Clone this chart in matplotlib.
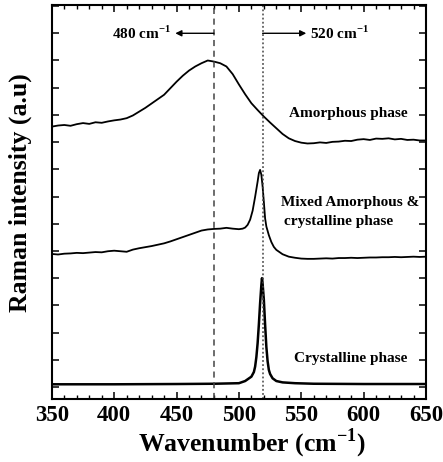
import numpy as np
import matplotlib
matplotlib.use("Agg")
import matplotlib.pyplot as plt
from matplotlib.ticker import MultipleLocator

plt.rcParams['font.family'] = ['Liberation Serif', 'DejaVu Serif']
plt.rcParams['font.weight'] = 'bold'
plt.rcParams['mathtext.fontset'] = 'custom'
plt.rcParams['mathtext.rm'] = 'Liberation Serif:bold'
plt.rcParams['mathtext.bf'] = 'Liberation Serif:bold'

# Raman spectra (offset traces), wavenumber in cm^-1
amorph_x = np.arange(350, 655, 5)
amorph_y = [9.57, 9.61, 9.63, 9.60, 9.66, 9.70, 9.67, 9.73, 9.71, 9.76,
            9.80, 9.83, 9.88, 9.98, 10.12, 10.26, 10.42, 10.58, 10.74, 10.98,
            11.22, 11.44, 11.63, 11.78, 11.90, 12.00, 11.96, 11.90, 11.78, 11.50,
            11.12, 10.76, 10.43, 10.18, 9.94, 9.72, 9.51, 9.30, 9.14, 9.04,
            8.98, 8.95, 8.96, 8.99, 8.97, 9.01, 9.02, 9.05, 9.04, 9.09,
            9.11, 9.08, 9.13, 9.12, 9.14, 9.10, 9.12, 9.08, 9.09, 9.06, 9.06]

mixed_x = [350, 355, 360, 365, 370, 375, 380, 385, 390, 395, 400, 405, 410,
           415, 420, 425, 430, 435, 440, 445, 450, 455, 460, 465, 470, 475,
           480, 485, 490, 495, 500, 503, 505, 507, 509, 511, 513, 515, 516,
           517, 518, 519, 520, 521, 522, 524, 526, 528, 530, 535, 540, 545,
           550, 555, 560, 565, 570, 575, 580, 585, 590, 595, 600, 605, 610,
           615, 620, 625, 630, 635, 640, 645, 650]
mixed_y = [4.89, 4.87, 4.90, 4.91, 4.93, 4.92, 4.94, 4.96, 4.95, 4.99, 5.01,
           4.99, 4.97, 5.05, 5.10, 5.14, 5.18, 5.23, 5.28, 5.35, 5.43, 5.51,
           5.59, 5.67, 5.75, 5.79, 5.81, 5.82, 5.85, 5.82, 5.80, 5.82, 5.86,
           5.96, 6.15, 6.48, 6.99, 7.55, 7.86, 7.98, 7.80, 7.37, 6.80, 6.20,
           5.90, 5.58, 5.33, 5.15, 5.04, 4.88, 4.79, 4.75, 4.72, 4.71, 4.71,
           4.72, 4.73, 4.72, 4.74, 4.74, 4.75, 4.74, 4.75, 4.76, 4.76, 4.77,
           4.77, 4.78, 4.77, 4.78, 4.79, 4.78, 4.79]

cryst_x = [350, 400, 450, 480, 490, 500, 505, 510, 512, 513, 514, 515, 516,
           517, 518, 518.5, 519, 520, 521, 522, 523, 524, 525, 527, 530, 535,
           545, 560, 600, 650]
cryst_y = [0.10, 0.10, 0.11, 0.12, 0.13, 0.14, 0.22, 0.38, 0.55, 0.75, 1.10,
           1.61, 2.30, 3.08, 3.75, 4.00, 3.80, 3.20, 2.30, 1.48, 0.95, 0.63,
           0.48, 0.32, 0.22, 0.17, 0.14, 0.12, 0.11, 0.11]

amorph_peak = 480
cryst_peak = 519

fig = plt.figure(figsize=(4.43, 4.62), dpi=100)
ax = fig.add_axes([0.117, 0.1364, 0.8446, 0.8528])

ax.plot(amorph_x, amorph_y, color='black', lw=1.3)
ax.plot(mixed_x, mixed_y, color='black', lw=1.3)
ax.plot(cryst_x, cryst_y, color='black', lw=1.8)

ax.axvline(amorph_peak, color='#444444', ls=(0, (4, 3)), lw=1.1)
ax.axvline(cryst_peak, color='#444444', ls=(0, (1.2, 1.5)), lw=1.1)

# peak markers with arrows
ax.annotate('', xy=(449, 13.0), xytext=(amorph_peak, 13.0),
            arrowprops=dict(arrowstyle='-|>', color='black', lw=1.0,
                            mutation_scale=9, shrinkA=0, shrinkB=0))
ax.text(422, 13.0, r'480 cm$^{\mathbf{-1}}$', ha='center', va='center',
        fontsize=11, fontweight='bold')
ax.annotate('', xy=(554, 13.0), xytext=(cryst_peak, 13.0),
            arrowprops=dict(arrowstyle='-|>', color='black', lw=1.0,
                            mutation_scale=9, shrinkA=0, shrinkB=0))
ax.text(581, 13.0, r'520 cm$^{\mathbf{-1}}$', ha='center', va='center',
        fontsize=11, fontweight='bold')

ax.text(588, 10.04, 'Amorphous phase', ha='center', va='center',
        fontsize=11, fontweight='bold')
ax.text(589, 6.77, 'Mixed Amorphous &', ha='center', va='center',
        fontsize=11, fontweight='bold')
ax.text(580, 6.07, 'crystalline phase', ha='center', va='center',
        fontsize=11, fontweight='bold')
ax.text(590, 1.03, 'Crystalline phase', ha='center', va='center',
        fontsize=11, fontweight='bold')

ax.set_xlim(350, 650)
ax.set_ylim(-0.44, 14.04)
ax.xaxis.set_major_locator(MultipleLocator(50))
ax.xaxis.set_minor_locator(MultipleLocator(10))
ax.yaxis.set_major_locator(MultipleLocator(1))
ax.set_yticklabels([])
ax.tick_params(axis='both', which='both', direction='in', top=True, right=True)
ax.tick_params(axis='x', which='major', length=5, width=1.1, labelsize=16.5, pad=4)
ax.tick_params(axis='x', which='minor', length=3, width=1.0)
ax.tick_params(axis='y', which='major', length=5, width=1.1)
for lbl in ax.get_xticklabels():
    lbl.set_fontweight('bold')
for sp in ax.spines.values():
    sp.set_linewidth(1.5)

ax.set_xlabel(r'Wavenumber (cm$^{\mathbf{-1}}$)', fontsize=18.5, fontweight='bold', labelpad=1)
ax.set_ylabel('Raman intensity (a.u)', fontsize=18.5, fontweight='bold', labelpad=11)
ax.xaxis.label.set_x(0.535)
ax.yaxis.label.set_y(0.525)

fig.savefig('out.png', dpi=100)
